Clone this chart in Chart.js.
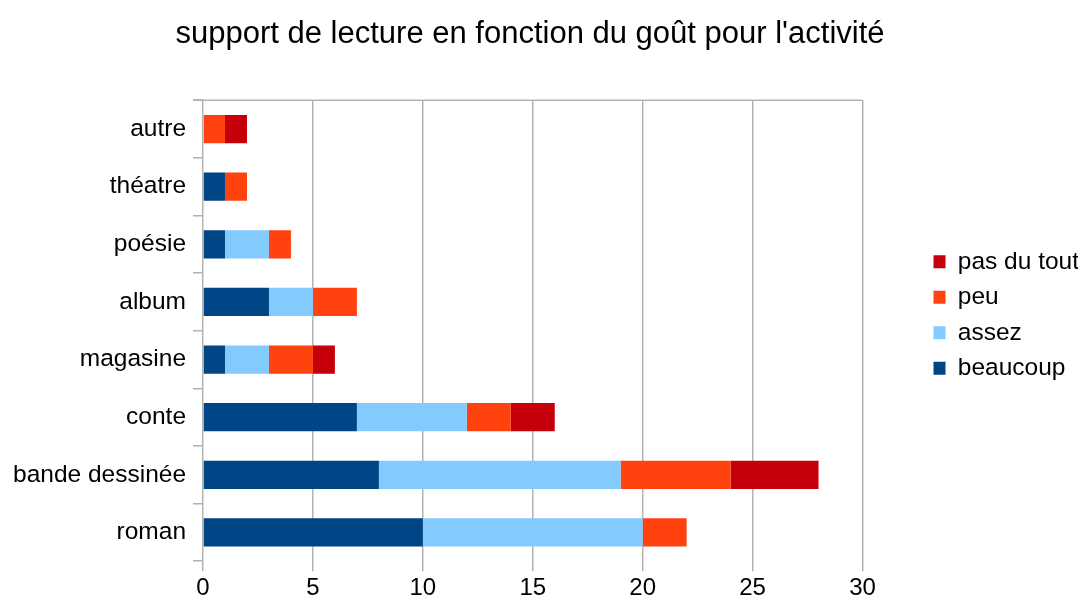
<!DOCTYPE html>
<html>
<head>
<meta charset="utf-8">
<script src="https://cdn.jsdelivr.net/npm/chart.js@4/dist/chart.umd.min.js"></script>
<style>
  html, body { margin: 0; padding: 0; background: #fff; }
  #wrap { width: 1085px; height: 607px; }
</style>
</head>
<body>
<div id="wrap"><canvas id="chart" width="1085" height="607"></canvas></div>
<script>
  // supports de lecture (de haut en bas)
  var categories = ['autre', 'théatre', 'poésie', 'album', 'magasine', 'conte', 'bande dessinée', 'roman'];
  var beaucoup = [0, 1, 1, 3, 1, 7, 8, 10];
  var assez = [0, 0, 2, 2, 2, 5, 11, 10];
  var peu = [1, 1, 1, 2, 2, 2, 5, 2];
  var pasDuTout = [1, 0, 0, 0, 1, 2, 4, 0];
  var xTicks = [0, 5, 10, 15, 20, 25, 30];

  var gridColor = '#b3b3b3';
  var font = 'Liberation Sans, Arial, sans-serif';

  // cadre du haut, légende plus large (zone de tracé plus étroite), titre décalé
  var frame = {
    id: 'frame',
    beforeLayout: function (chart) {
      var lg = chart.legend;
      if (lg && !lg._wide) {
        var fit = lg.fit;
        lg.fit = function () {
          fit.call(this);
          this.width += 49;
        };
        lg._wide = true;
      }
    },
    afterLayout: function (chart) {
      if (chart.titleBlock) {
        chart.titleBlock.left -= 12;
        chart.titleBlock.right -= 12;
      }
      if (chart.legend) {
        chart.legend.left += 60;
        chart.legend.top += 12;
        chart.legend.bottom += 12;
      }
    },
    afterDraw: function (chart) {
      var a = chart.chartArea;
      var ctx = chart.ctx;
      ctx.save();
      ctx.strokeStyle = gridColor;
      ctx.lineWidth = 1.5;
      ctx.beginPath();
      ctx.moveTo(a.left - 10, a.top);
      ctx.lineTo(a.right, a.top);
      ctx.stroke();
      ctx.restore();
    }
  };

  function ds(label, data, color) {
    return {
      label: label,
      data: data,
      backgroundColor: color,
      borderWidth: 0,
      barPercentage: 0.49,
      categoryPercentage: 1
    };
  }

  new Chart(document.getElementById('chart').getContext('2d'), {
    type: 'bar',
    data: {
      labels: categories,
      datasets: [
        ds('beaucoup', beaucoup, '#004586'),
        ds('assez', assez, '#83caff'),
        ds('peu', peu, '#ff420e'),
        ds('pas du tout', pasDuTout, '#c5000b')
      ]
    },
    options: {
      indexAxis: 'y',
      responsive: false,
      animation: false,
      layout: { padding: { left: 6, right: 7, top: 0, bottom: 1 } },
      plugins: {
        title: {
          display: true,
          text: "support de lecture en fonction du goût pour l'activité",
          color: '#000',
          font: { family: font, size: 31, weight: 'normal' },
          padding: { top: 16, bottom: 47 }
        },
        legend: {
          position: 'right',
          reverse: true,
          labels: {
            color: '#000',
            font: { family: font, size: 24.5 },
            boxWidth: 12,
            boxHeight: 13,
            padding: 11
          }
        },
        tooltip: { enabled: false }
      },
      scales: {
        x: {
          stacked: true,
          min: 0,
          max: 30,
          afterBuildTicks: function (axis) {
            axis.ticks = xTicks.map(function (v) { return { value: v }; });
          },
          grid: { color: gridColor, lineWidth: 1.5, tickLength: 10 },
          border: { display: false },
          ticks: { color: '#000', font: { family: font, size: 24 }, padding: 3 }
        },
        y: {
          stacked: true,
          grid: { color: gridColor, lineWidth: 1.5, drawOnChartArea: false, tickLength: 10, offset: true },
          border: { display: false },
          ticks: { color: '#000', font: { family: font, size: 24.5 }, padding: 7 }
        }
      }
    },
    plugins: [frame]
  });
</script>
</body>
</html>
